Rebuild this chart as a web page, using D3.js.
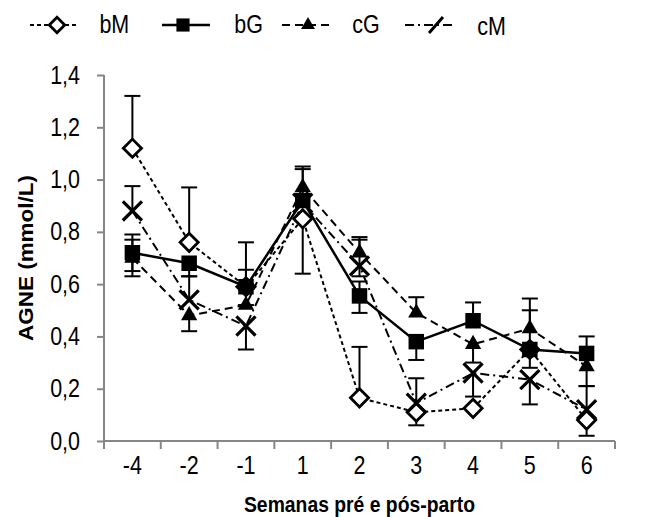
<html>
<head>
<meta charset="utf-8">
<title>AGNE</title>
<script src="https://d3js.org/d3.v7.min.js"></script>
<style>
  body { margin: 0; background: #fff; }
  svg { display: block; font-family: "Liberation Sans", Arial, sans-serif; }
  .tick text { font-size: 25px; fill: #000; }
  .axis path, .axis line { stroke: #868686; stroke-width: 2px; }
  .narrow { transform-box: fill-box; transform-origin: center; transform: scaleX(0.86); }
  .ylab .tick text { transform-box: fill-box; transform-origin: right center; transform: scaleX(0.86); }
</style>
</head>
<body>
<div id="chart"></div>
<script>
const width = 650, height = 517;

// categories (weeks)
const weeks = ["-4", "-2", "-1", "1", "2", "3", "4", "5", "6"];
const yTicks = [0, 0.2, 0.4, 0.6, 0.8, 1.0, 1.2, 1.4];

// series values
const bM = [1.12, 0.76, 0.59, 0.85, 0.165, 0.11, 0.125, 0.35, 0.08];
const bG = [0.72, 0.68, 0.59, 0.92, 0.555, 0.38, 0.46, 0.35, 0.335];
const cG = [0.70, 0.48, 0.52, 0.97, 0.72, 0.49, 0.37, 0.43, 0.285];
const cM = [0.88, 0.54, 0.44, 0.91, 0.67, 0.145, 0.26, 0.235, 0.12];

// error bars (upper / lower lengths, 0 = not drawn)
const bMup = [0.20, 0.21, 0.17, 0, 0.195, 0, 0, 0.15, 0];
const bMdn = [0, 0, 0, 0.21, 0, 0.05, 0, 0, 0.06];
const bGup = [0.07, 0, 0.065, 0.13, 0.055, 0, 0.07, 0, 0.065];
const bGdn = [0.07, 0.05, 0.07, 0, 0.065, 0.07, 0, 0.07, 0];
const cGup = [0.07, 0, 0, 0.07, 0.06, 0.06, 0, 0.115, 0];
const cGdn = [0.07, 0.06, 0, 0, 0, 0, 0.07, 0, 0.075];
const cMup = [0.095, 0.09, 0, 0, 0.10, 0.095, 0, 0, 0.09];
const cMdn = [0, 0, 0.09, 0, 0.04, 0, 0.09, 0.095, 0];

const series = [
  {name: "bM", values: bM, up: bMup, dn: bMdn, dash: "4,3", lw: 2, marker: "diamond"},
  {name: "bG", values: bG, up: bGup, dn: bGdn, dash: null, lw: 2.5, marker: "square"},
  {name: "cG", values: cG, up: cGup, dn: cGdn, dash: "8,5", lw: 2, marker: "triangle"},
  {name: "cM", values: cM, up: cMup, dn: cMdn, dash: "9,4,2,4", lw: 2, marker: "x"}
];
// marker drawing order (later = on top)
const markerOrder = ["bM", "cM", "cG", "bG"];

const margin = {left: 104, right: 35, top: 75, bottom: 76};

const x = d3.scaleBand().domain(weeks).range([margin.left, width - margin.right]);
const y = d3.scaleLinear().domain([0, 1.4]).range([height - margin.bottom, margin.top]);

const svg = d3.select("#chart").append("svg")
  .attr("width", width).attr("height", height);

// axes
svg.append("g").attr("class", "axis ylab")
  .attr("transform", "translate(" + margin.left + ",0)")
  .call(d3.axisLeft(y).tickValues(yTicks).tickSize(7).tickPadding(17)
    .tickFormat(d => d3.format(".1f")(d).replace(".", ",")))
  .call(g => g.select(".domain").attr("d", "M0," + y(0) + "V" + y(1.4)));

const xAxis = svg.append("g").attr("class", "axis")
  .attr("transform", "translate(0," + y(0) + ")")
  .call(d3.axisBottom(x).tickSize(0).tickPadding(15))
  .call(g => g.select(".domain").attr("d", "M" + margin.left + ",0H" + (width - margin.right)));
xAxis.selectAll(".tick text").attr("class", "narrow");
// ticks between categories
xAxis.selectAll(".sep").data(weeks.concat(["end"]))
  .enter().append("line").attr("class", "sep")
  .attr("x1", (d, i) => margin.left + i * x.bandwidth())
  .attr("x2", (d, i) => margin.left + i * x.bandwidth())
  .attr("y1", 0).attr("y2", 8);

// axis titles
svg.append("text")
  .attr("transform", "translate(28," + ((y(0) + y(1.4)) / 2) + ") rotate(-90) scale(1,0.86)")
  .attr("text-anchor", "middle").attr("dominant-baseline", "middle")
  .style("font-size", "22.5px").style("font-weight", "bold")
  .text("AGNE (mmol/L)");
svg.append("text").attr("class", "narrow")
  .attr("x", (margin.left + width - margin.right) / 2).attr("y", 512)
  .attr("text-anchor", "middle")
  .style("font-size", "22.5px").style("font-weight", "bold")
  .text("Semanas pré e pós-parto");

const cx = d => x(d) + x.bandwidth() / 2;

// lines
const line = d3.line().x((d, i) => cx(weeks[i])).y(d => y(d));
series.forEach(s => {
  svg.append("path").datum(s.values)
    .attr("d", line).attr("fill", "none")
    .attr("stroke", "#000").attr("stroke-width", s.lw)
    .attr("stroke-dasharray", s.dash);
});

// error bars
series.forEach(s => {
  s.values.forEach((v, i) => {
    const px = cx(weeks[i]);
    [[s.up[i], 1], [s.dn[i], -1]].forEach(([e, sign]) => {
      if (!e) return;
      const end = y(v + sign * e);
      svg.append("line").attr("x1", px).attr("x2", px)
        .attr("y1", y(v)).attr("y2", end)
        .attr("stroke", "#000").attr("stroke-width", 2);
      svg.append("line").attr("x1", px - 8).attr("x2", px + 8)
        .attr("y1", end).attr("y2", end)
        .attr("stroke", "#000").attr("stroke-width", 2);
    });
  });
});

// markers
function drawMarker(g, type, px, py, scale) {
  const k = scale || 1;
  if (type === "diamond") {
    g.append("path").attr("d", d3.symbol(d3.symbolSquare, 165 * k * k)())
      .attr("transform", "translate(" + px + "," + py + ") rotate(45)")
      .attr("fill", "#fff").attr("stroke", "#000").attr("stroke-width", 2.8);
  } else if (type === "square") {
    g.append("path").attr("d", d3.symbol(d3.symbolSquare, 240 * k * k)())
      .attr("transform", "translate(" + px + "," + py + ")")
      .attr("fill", "#000");
  } else if (type === "triangle") {
    g.append("path").attr("d", d3.symbol(d3.symbolTriangle, 115 * k * k)())
      .attr("transform", "translate(" + px + "," + py + ")")
      .attr("fill", "#000");
  } else {
    g.append("path").attr("d", d3.symbol(d3.symbolX, 240 * k * k)())
      .attr("transform", "translate(" + px + "," + py + ")")
      .attr("fill", "none").attr("stroke", "#000").attr("stroke-width", 3.2);
  }
}

markerOrder.forEach(name => {
  const s = series.find(d => d.name === name);
  const g = svg.append("g");
  s.values.forEach((v, i) => drawMarker(g, s.marker, cx(weeks[i]), y(v)));
});

// legend
const legendLine = [[30, 78], [162, 210], [282, 332], [405, 453]];
const legendMark = [57, 183, 308, 436];
const legendText = [97, 232, 350, 475];
const legend = svg.append("g");
series.forEach((s, i) => {
  const ly = 25;
  legend.append("line").attr("x1", legendLine[i][0]).attr("x2", legendLine[i][1])
    .attr("y1", ly).attr("y2", ly)
    .attr("stroke", "#000").attr("stroke-width", s.lw)
    .attr("stroke-dasharray", s.dash);
  if (s.marker === "x") {
    legend.append("line").attr("x1", legendMark[i] - 7).attr("x2", legendMark[i] + 7)
      .attr("y1", ly + 8).attr("y2", ly - 8)
      .attr("stroke", "#000").attr("stroke-width", 3);
  } else {
    drawMarker(legend.append("g"), s.marker, legendMark[i], ly, 0.85);
  }
  legend.append("text").attr("class", "narrow")
    .attr("x", legendText[i]).attr("y", ly + (s.name === "cM" ? 10 : 8))
    .style("font-size", "25px").text(s.name);
});
</script>
</body>
</html>
